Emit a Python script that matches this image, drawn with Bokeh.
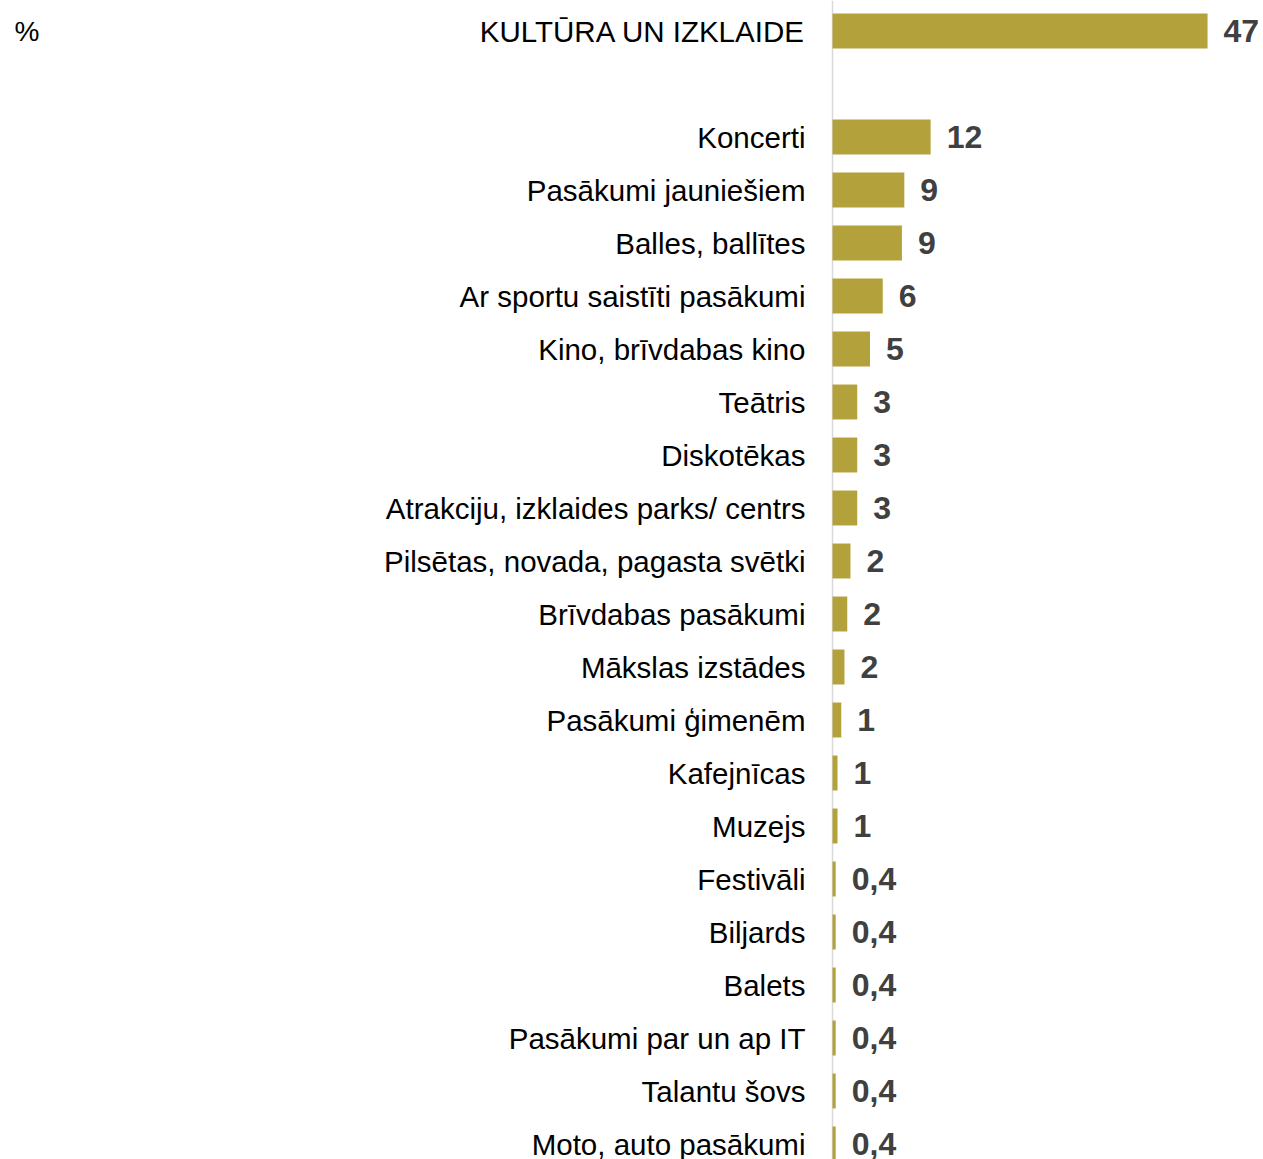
from bokeh.plotting import figure
from bokeh.models import ColumnDataSource, Span, Label, Range1d
from bokeh.core.properties import value
from bokeh.embed import file_html
from bokeh.resources import INLINE

categories = [
    "KULTŪRA UN IZKLAIDE",
    "Koncerti",
    "Pasākumi jauniešiem",
    "Balles, ballītes",
    "Ar sportu saistīti pasākumi",
    "Kino, brīvdabas kino",
    "Teātris",
    "Diskotēkas",
    "Atrakciju, izklaides parks/ centrs",
    "Pilsētas, novada, pagasta svētki",
    "Brīvdabas pasākumi",
    "Mākslas izstādes",
    "Pasākumi ģimenēm",
    "Kafejnīcas",
    "Muzejs",
    "Festivāli",
    "Biljards",
    "Balets",
    "Pasākumi par un ap IT",
    "Talantu šovs",
    "Moto, auto pasākumi",
]
values = [47, 12.3, 9.0, 8.7, 6.3, 4.7, 3.1, 3.1, 3.1, 2.25, 1.85, 1.5, 1.1,
          0.63, 0.63, 0.4, 0.4, 0.4, 0.4, 0.4, 0.4]
value_labels = ["47", "12", "9", "9", "6", "5", "3", "3", "3", "2", "2", "2",
                "1", "1", "1", "0,4", "0,4", "0,4", "0,4", "0,4", "0,4"]
unit_label = "%"

# slot positions: heading first, then one empty slot, then the items
slots = [0] + [i + 2 for i in range(len(categories) - 1)]
ys = [-s for s in slots]

src = ColumnDataSource(dict(y=ys, v=values, cat=categories, lab=value_labels))

W, H = 1262, 1159
px_per_unit = 7.98
zero_px = 832
x_start = -zero_px / px_per_unit
x_end = (W - zero_px) / px_per_unit
slot_px = 53.0
top_px = 30.5
y_end = top_px / slot_px
y_start = -(H - top_px) / slot_px

p = figure(width=W, height=H, output_backend="svg", toolbar_location=None,
           x_range=Range1d(x_start, x_end), y_range=Range1d(y_start, y_end),
           min_border=0, min_border_left=0, min_border_right=0,
           min_border_top=0, min_border_bottom=0)
p.axis.visible = False
p.grid.visible = False
p.outline_line_color = None
p.background_fill_color = "white"
p.border_fill_color = "white"

p.add_layout(Span(location=0, dimension="height", line_color="#d9d9d9",
                  line_width=1.5, level="underlay"))

p.hbar(y="y", left=0, right="v", height=0.66, source=src,
       fill_color="#b3a23c", line_color=None)

p.text(x=0, y="y", text="cat", source=src, x_offset=-27,
       text_align="right", text_baseline="middle",
       text_font=value("Liberation Sans"), text_font_size="29.5px",
       text_color="#000000")

p.text(x="v", y="y", text="lab", source=src, x_offset=16,
       text_align="left", text_baseline="middle",
       text_font=value("Liberation Sans"), text_font_size="32px",
       text_font_style="bold", text_color="#404040")

p.add_layout(Label(x=14, x_units="screen", y=0, text=unit_label,
                   text_align="left", text_baseline="middle",
                   text_font="Liberation Sans", text_font_size="28px",
                   text_color="#000000"))

open("out.html", "w").write(file_html(p, INLINE))
